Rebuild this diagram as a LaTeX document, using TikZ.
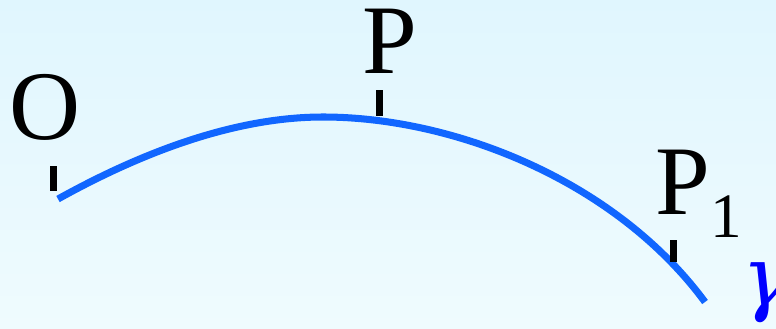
\documentclass[tikz,border=0pt]{standalone}
\usepackage{fontspec}
\setmainfont{Liberation Serif}
\newfontfamily\gammafont{DejaVu Serif}
\usetikzlibrary{calc, positioning}
\definecolor{bgtop}{RGB}{224,246,254}
\definecolor{bgbot}{RGB}{239,251,254}
\definecolor{curveblue}{RGB}{17,102,255}

\begin{document}
\begin{tikzpicture}[x=0.02cm,y=-0.02cm]
\def\labelsize{\fontsize{56}{56}\selectfont}
\useasboundingbox[top color=bgtop,bottom color=bgbot] (0,0) rectangle (776,328);

\coordinate (start) at (58,199);
\coordinate (top) at (323,117);
\coordinate (end) at (705,302);

% the curve gamma
\draw[curveblue, line width=4pt] (start) .. controls (157,144) and (246,117) .. (top)
  .. controls (453,117) and (615,180) .. (end);

% ticks at O, P and P_1
\foreach \x/\ya/\yb in {53.5/166/191, 379.5/90/116, 673/240/262}{
  \draw[line width=4pt] (\x,\ya) -- (\x,\yb);
}

\node[anchor=base, inner sep=0] (lO) at (45,139) {\labelsize O};
\node[anchor=base, inner sep=0] (lP) at (390,73) {\labelsize P};
\node[anchor=base west, inner sep=0] (lP1) at (655,214) {\labelsize P\raisebox{-13.6pt}{\fontsize{36}{36}\selectfont 1}};
\node[anchor=base west, inner sep=0, text=blue] (lgamma) at (742,305) {\fontsize{47}{47}\selectfont\gammafont\itshape γ};
\end{tikzpicture}
\end{document}
